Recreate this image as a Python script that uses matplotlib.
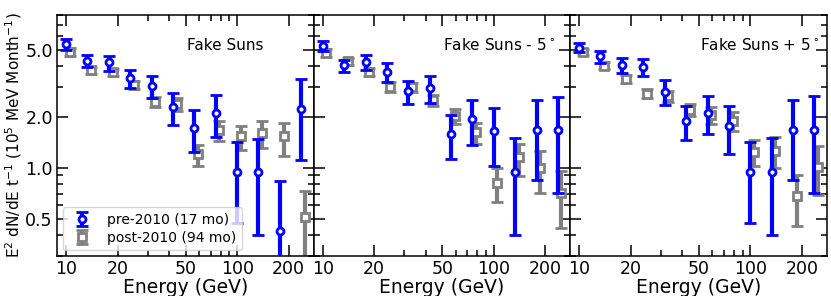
import matplotlib
matplotlib.use("Agg")
import matplotlib.pyplot as plt
import numpy as np
from matplotlib.ticker import FixedLocator, FixedFormatter, NullFormatter

energy = [10.0, 13.3, 17.8, 23.7, 31.6, 42.2, 56.2, 75.0, 100.0, 133.0, 178.0, 237.0]
post_shift = 1.05

titles = ["Fake Suns", r"Fake Suns - 5$^\circ$", r"Fake Suns + 5$^\circ$"]

# panel 1
p1_pre = [5.40, 4.28, 4.20, 3.39, 3.06, 2.29, 1.72, 2.11, 0.94, 0.94, 0.42, 2.23]
p1_pre_lo = [4.99, 3.92, 3.76, 2.96, 2.57, 1.80, 1.24, 1.51, 0.47, 0.40, 0.10, 1.11]
p1_pre_hi = [5.77, 4.64, 4.56, 3.79, 3.50, 2.75, 2.20, 2.71, 1.41, 1.48, 0.83, 3.33]
p1_post = [4.84, 3.79, 3.66, 3.09, 2.46, 2.37, 1.21, 1.67, 1.55, 1.60, 1.53, 0.51]
p1_post_lo = [4.60, 3.60, 3.47, 2.92, 2.29, 2.16, 1.02, 1.43, 1.28, 1.30, 1.18, 0.20]
p1_post_hi = [5.08, 3.97, 3.84, 3.26, 2.62, 2.57, 1.36, 1.88, 1.77, 1.89, 1.85, 0.73]

# panel 2
p2_pre = [5.27, 4.03, 4.24, 3.68, 2.83, 2.96, 1.59, 1.93, 1.65, 0.94, 1.68, 1.68]
p2_pre_lo = [4.92, 3.66, 3.79, 3.23, 2.37, 2.41, 1.13, 1.36, 1.03, 0.40, 0.84, 0.71]
p2_pre_hi = [5.64, 4.35, 4.66, 4.16, 3.27, 3.50, 2.04, 2.53, 2.26, 1.50, 2.53, 2.63]
p2_post = [4.77, 4.26, 3.70, 3.00, 2.99, 2.50, 2.02, 1.63, 0.81, 1.15, 0.99, 0.71]
p2_post_lo = [4.53, 4.03, 3.50, 2.82, 2.80, 2.31, 1.81, 1.39, 0.63, 0.89, 0.71, 0.44]
p2_post_hi = [5.02, 4.46, 3.90, 3.20, 3.18, 2.70, 2.24, 1.84, 1.00, 1.39, 1.26, 0.96]

# panel 3
p3_pre = [5.11, 4.56, 4.07, 3.97, 2.82, 1.89, 2.11, 1.77, 0.94, 0.94, 1.68, 1.68]
p3_pre_lo = [4.81, 4.16, 3.63, 3.50, 2.35, 1.46, 1.58, 1.21, 0.47, 0.40, 0.84, 0.71]
p3_pre_hi = [5.47, 4.92, 4.46, 4.42, 3.29, 2.32, 2.64, 2.31, 1.41, 1.49, 2.53, 2.64]
p3_post = [4.84, 4.01, 3.35, 2.74, 2.64, 2.20, 2.06, 1.90, 1.23, 1.25, 0.68, 1.01]
p3_post_lo = [4.62, 3.82, 3.17, 2.57, 2.44, 2.01, 1.82, 1.65, 1.02, 1.00, 0.45, 0.69]
p3_post_hi = [5.07, 4.20, 3.53, 2.92, 2.86, 2.39, 2.29, 2.14, 1.46, 1.52, 0.91, 1.34]

panels = [
    (p1_pre, p1_pre_lo, p1_pre_hi, p1_post, p1_post_lo, p1_post_hi),
    (p2_pre, p2_pre_lo, p2_pre_hi, p2_post, p2_post_lo, p2_post_hi),
    (p3_pre, p3_pre_lo, p3_pre_hi, p3_post, p3_post_lo, p3_post_hi),
]

xticks = [10, 20, 50, 100, 200]
xminor = [30, 40, 60, 70, 80, 90]
yticks = [0.5, 1.0, 2.0, 5.0]
yminor = [0.3, 0.4, 0.6, 0.7, 0.8, 0.9, 3, 4, 6, 7, 8]

fig, axes = plt.subplots(1, 3, figsize=(8.31, 2.96), dpi=100, sharey=True)
fig.subplots_adjust(left=0.0686, right=0.995, top=0.949, bottom=0.135, wspace=0)

BLUE = "#0000ff"
GRAY = "#808080"

e = np.array(energy)
for i, ax in enumerate(axes):
    pre, pre_lo, pre_hi, post, post_lo, post_hi = [np.array(a) for a in panels[i]]
    ax.errorbar(e, pre, yerr=[pre - pre_lo, pre_hi - pre], fmt="o", color=BLUE,
                mfc="white", mec=BLUE, ms=5, mew=2, elinewidth=3, capsize=4,
                capthick=2, label="pre-2010 (17 mo)", zorder=3)
    ax.errorbar(e * post_shift, post, yerr=[post - post_lo, post_hi - post], fmt="s",
                color=GRAY, mfc="white", mec=GRAY, ms=5.5, mew=2, elinewidth=3,
                capsize=4, capthick=2, label="post-2010 (94 mo)", zorder=2)
    ax.set_xscale("log")
    ax.set_yscale("log")
    ax.set_xlim(8.85, 280)
    ax.set_ylim(0.30, 8.0)
    ax.xaxis.set_major_locator(FixedLocator(xticks))
    ax.xaxis.set_major_formatter(FixedFormatter([str(t) for t in xticks]))
    ax.xaxis.set_minor_locator(FixedLocator(xminor))
    ax.xaxis.set_minor_formatter(NullFormatter())
    ax.yaxis.set_major_locator(FixedLocator(yticks))
    ax.yaxis.set_major_formatter(FixedFormatter(["%.1f" % t for t in yticks]))
    ax.yaxis.set_minor_locator(FixedLocator(yminor))
    ax.yaxis.set_minor_formatter(NullFormatter())
    ax.tick_params(which="both", direction="in", top=True, right=True, width=1.1)
    ax.tick_params(which="major", length=8, labelsize=12.5, pad=3)
    ax.tick_params(which="minor", length=4)
    if i > 0:
        ax.tick_params(labelleft=False)
    for s in ax.spines.values():
        s.set_linewidth(1.1)
    ax.set_xlabel("Energy (GeV)", fontsize=13.5, labelpad=0)
    ax.text(0.505, 0.875, titles[i], transform=ax.transAxes, ha="left", va="center",
            fontsize=11)
    if i == 0:
        ax.legend(loc="lower left", fontsize=10, handletextpad=0.8,
                  borderaxespad=0.4, labelspacing=0.3)

axes[0].set_ylabel(r"E$^2$ dN/dE t$^{-1}$ (10$^5$ MeV Month$^{-1}$)", fontsize=11, labelpad=1)

fig.savefig("out.png", dpi=100)
